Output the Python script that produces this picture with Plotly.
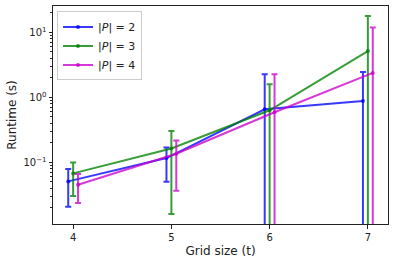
import plotly.graph_objects as go

grid_sizes = [4, 5, 6, 7]
series_names = ["|<i>P</i>| = 2", "|<i>P</i>| = 3", "|<i>P</i>| = 4"]
offsets = [-0.05, 0.0, 0.05]

mean_p2 = [0.0507, 0.116, 0.653, 0.877]
err_up_p2 = [0.028, 0.053, 1.61, 1.57]
err_dn_p2 = [0.030, 0.066, 1.61, 1.57]

mean_p3 = [0.0673, 0.163, 0.63, 5.15]
err_up_p3 = [0.032, 0.139, 0.95, 12.7]
err_dn_p3 = [0.037, 0.147, 0.95, 12.7]

mean_p4 = [0.0451, 0.135, 0.588, 2.37]
err_up_p4 = [0.021, 0.081, 1.67, 9.5]
err_dn_p4 = [0.0216, 0.0985, 1.67, 9.5]

y_tick_vals = [0.1, 1, 10]
y_tick_text = ["10<sup>\u22121</sup>", "10<sup>0</sup>", "10<sup>1</sup>"]

colors = ["rgba(0,0,255,0.78)", "rgba(0,128,0,0.78)", "rgba(204,0,204,0.78)"]

means = [mean_p2, mean_p3, mean_p4]
ups = [err_up_p2, err_up_p3, err_up_p4]
dns = [err_dn_p2, err_dn_p3, err_dn_p4]

fig = go.Figure()
for name, off, m, u, d, c in zip(series_names, offsets, means, ups, dns, colors):
    fig.add_trace(go.Scatter(
        x=[g + off for g in grid_sizes], y=m, name=name,
        mode="lines+markers",
        line=dict(color=c, width=2),
        marker=dict(color=c, size=4),
        error_y=dict(type="data", symmetric=False, array=u, arrayminus=d,
                     color=c, thickness=2, width=3),
    ))

minor_vals = [k * 10 ** e for e in (-2, -1, 0, 1) for k in range(2, 10)]

fig.update_layout(
    width=394, height=262,
    margin=dict(l=53, r=6, t=6, b=38),
    paper_bgcolor="white", plot_bgcolor="white",
    font=dict(family="DejaVu Sans", size=10, color="#222"),
    showlegend=True,
    legend=dict(x=0.012, y=0.975, xanchor="left", yanchor="top",
                bgcolor="rgba(255,255,255,0.8)", bordercolor="#ccc", borderwidth=1,
                font=dict(size=11), tracegroupgap=0, itemwidth=30),
    xaxis=dict(range=[3.795, 7.205], tickvals=grid_sizes,
               showline=True, mirror=True, linecolor="#222", linewidth=1,
               ticks="outside", ticklen=3.5, tickcolor="#222",
               showgrid=False, zeroline=False, automargin=False,
               title=dict(text="Grid size (t)", standoff=5)),
    yaxis=dict(type="log", range=[-1.951, 1.405],
               tickvals=y_tick_vals, ticktext=y_tick_text,
               showline=True, mirror=True, linecolor="#222", linewidth=1,
               ticks="outside", ticklen=3.5, tickcolor="#222",
               showgrid=False, zeroline=False, automargin=False,
               minor=dict(tickvals=minor_vals, ticks="outside", ticklen=2,
                          tickcolor="#222", showgrid=False),
               title=dict(text="Runtime (s)", standoff=4)),
)

fig.write_html("out.html", config={"displayModeBar": False},
               post_script="document.body.style.margin='0px';")
